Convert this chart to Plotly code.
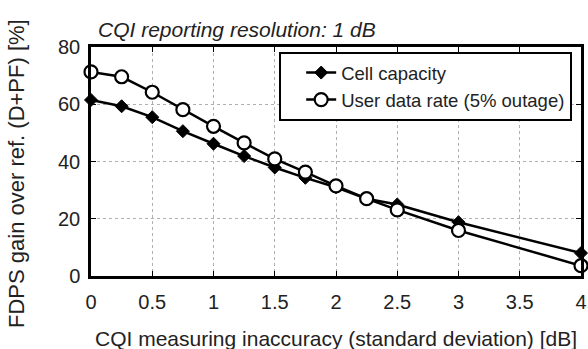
import plotly.graph_objects as go

x_vals = [0, 0.25, 0.5, 0.75, 1, 1.25, 1.5, 1.75, 2, 2.25, 2.5, 3, 4]
cell_capacity = [61.5, 59.3, 55.5, 50.6, 46.2, 41.9, 37.9, 34.3, 31.0, 27.0, 25.0, 18.8, 8.0]
user_rate = [71.3, 69.6, 64.2, 58.1, 52.3, 46.5, 40.9, 36.3, 31.5, 27.0, 23.1, 15.9, 3.6]
x_ticks = [0, 0.5, 1, 1.5, 2, 2.5, 3, 3.5, 4]
y_ticks = [0, 20, 40, 60, 80]

FONT = "Liberation Sans, Arial, sans-serif"
TXT = "#222"

fig = go.Figure()
fig.add_trace(go.Scatter(
    x=x_vals, y=cell_capacity, mode="lines+markers", name="Cell capacity",
    line=dict(color="black", width=2.5),
    marker=dict(symbol="diamond", size=10, color="black", line=dict(color="black", width=1)),
    cliponaxis=False,
))
fig.add_trace(go.Scatter(
    x=x_vals, y=user_rate, mode="lines+markers", name="User data rate (5% outage)",
    line=dict(color="black", width=2.5),
    marker=dict(symbol="circle", size=13, color="white", line=dict(color="black", width=2.2)),
    cliponaxis=False,
))

axis_common = dict(
    showline=True, linecolor="black", linewidth=2.5, mirror="ticks",
    ticks="inside", ticklen=5, tickwidth=1, tickcolor="black",
    showgrid=True, gridcolor="#b0b0b0", griddash="dot", gridwidth=1,
    zeroline=False, tickfont=dict(family=FONT, size=20, color=TXT),
    ticklabeloverflow="allow",
)

fig.update_layout(
    width=588, height=349,
    margin=dict(l=91, r=1, t=47, b=73),
    paper_bgcolor="white", plot_bgcolor="white",
    showlegend=True,
    legend=dict(
        x=0.982, y=0.978, xanchor="right", yanchor="top",
        bgcolor="white", bordercolor="black", borderwidth=2,
        font=dict(family=FONT, size=18.5, color=TXT),
        tracegroupgap=0, itemsizing="trace", indentation=20,
    ),
    xaxis=dict(range=[0, 4], tickvals=x_ticks, ticklabelstandoff=6, **axis_common),
    yaxis=dict(range=[0, 80], tickvals=y_ticks, ticklabelstandoff=4, **axis_common),
    annotations=[
        dict(text="<i>CQI reporting resolution: 1 dB</i>", xref="paper", yref="paper",
             x=0.01, y=1.0, xanchor="left", yanchor="bottom", yshift=4, showarrow=False,
             font=dict(family=FONT, size=21, color=TXT)),
        dict(text="CQI measuring inaccuracy (standard deviation) [dB]", xref="paper", yref="paper",
             x=0.5, y=0, xanchor="center", yanchor="middle", yshift=-62, showarrow=False,
             font=dict(family=FONT, size=21, color=TXT)),
        dict(text="FDPS gain over ref. (D+PF) [%]", xref="paper", yref="paper",
             x=0, y=0.5, xanchor="right", yanchor="middle", xshift=-60, yshift=-12,
             showarrow=False, textangle=-90, font=dict(family=FONT, size=22, color=TXT)),
    ],
)

fig.write_html("out.html")
